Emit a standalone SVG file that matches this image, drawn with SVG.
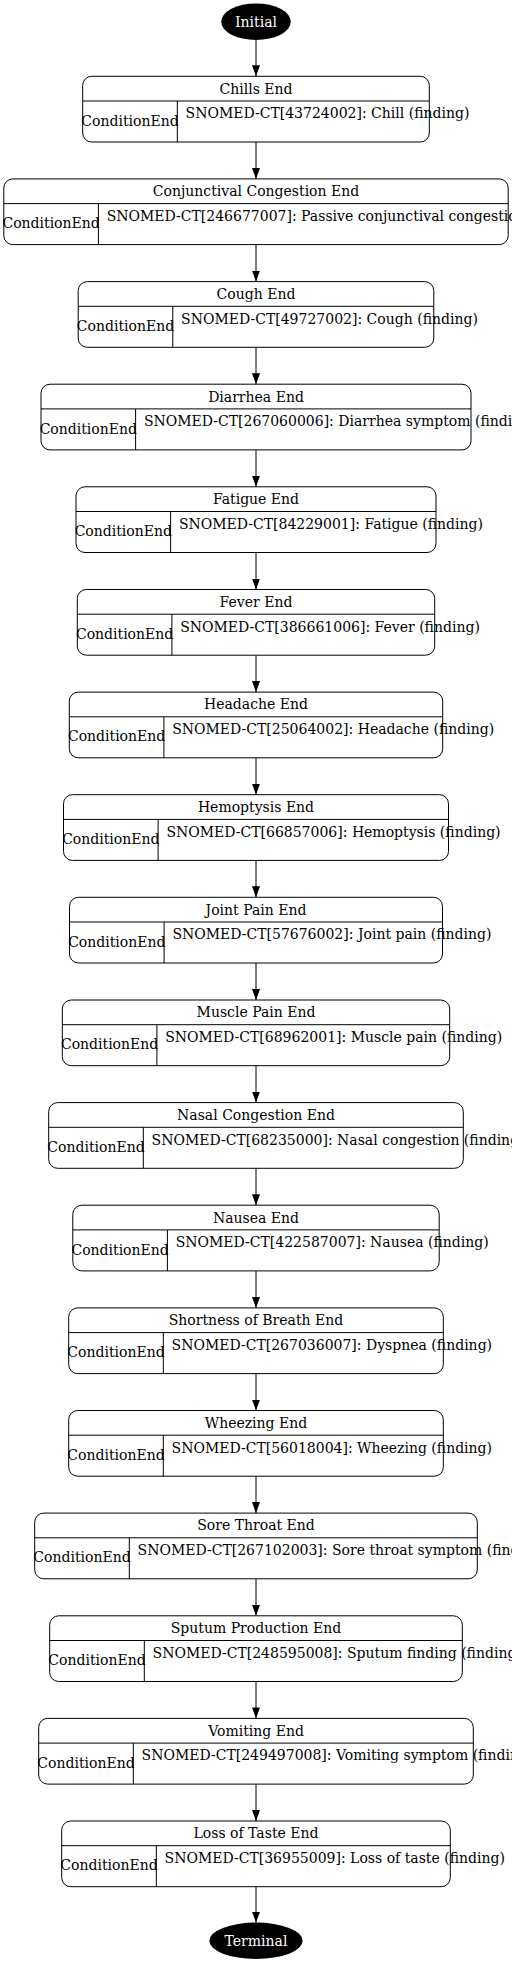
<svg xmlns="http://www.w3.org/2000/svg" width="512" height="1963" viewBox="0 0 512 1963">
<style>
text{font-family:"DejaVu Serif","Liberation Serif",serif;font-size:14px;fill:#000}
.box{fill:#fff;stroke:#000;stroke-width:1}
.ln{stroke:#000;stroke-width:1;fill:none}
.t{text-anchor:middle}
.s{text-anchor:start}
.e{stroke:#000;stroke-width:1;fill:none;marker-end:url(#ah)}
.w{fill:#fff;text-anchor:middle}
</style>
<defs>
<marker id="ah" markerUnits="userSpaceOnUse" markerWidth="11" markerHeight="8" refX="11" refY="4" orient="auto" viewBox="0 0 11 8">
<path d="M0,0 L11,4 L0,8 z" fill="#000"/>
</marker>
</defs>
<rect width="512" height="1963" fill="#fff"/>
<g id="connectors">
<path class="e" d="M256,40 V76.3"/>
<path class="e" d="M256,142 V178.9"/>
<path class="e" d="M256,244.6 V281.6"/>
<path class="e" d="M256,347.3 V384.2"/>
<path class="e" d="M256,449.9 V486.8"/>
<path class="e" d="M256,552.5 V589.5"/>
<path class="e" d="M256,655.2 V692.1"/>
<path class="e" d="M256,757.8 V794.7"/>
<path class="e" d="M256,860.4 V897.3"/>
<path class="e" d="M256,963 V1000"/>
<path class="e" d="M256,1065.7 V1102.6"/>
<path class="e" d="M256,1168.3 V1205.2"/>
<path class="e" d="M256,1270.9 V1307.9"/>
<path class="e" d="M256,1373.6 V1410.5"/>
<path class="e" d="M256,1476.2 V1513.1"/>
<path class="e" d="M256,1578.8 V1615.8"/>
<path class="e" d="M256,1681.5 V1718.4"/>
<path class="e" d="M256,1784.1 V1821"/>
<path class="e" d="M256,1886.7 V1922.6"/>
</g>
<g id="initial">
<ellipse cx="256" cy="21.7" rx="34.8" ry="18.3" fill="#000"/>
<text class="w" x="256" y="26.5">Initial</text>
</g>
<g id="chills">
<rect class="box" x="82.7" y="76.3" width="346.6" height="65.7" rx="9"/>
<path class="ln" d="M82.7,101 H429.3 M177.3,101 V142"/>
<text class="t" x="256" y="93.6">Chills End</text>
<text class="t" x="130" y="125.6">ConditionEnd</text>
<text class="s" x="185.6" y="118.3">SNOMED-CT[43724002]: Chill (finding)</text>
</g>
<g id="conjunctival">
<rect class="box" x="3.8" y="178.9" width="504.4" height="65.7" rx="9"/>
<path class="ln" d="M3.8,203.6 H508.2 M98.4,203.6 V244.6"/>
<text class="t" x="256" y="196.2">Conjunctival Congestion End</text>
<text class="t" x="51.1" y="228.2">ConditionEnd</text>
<text class="s" x="106.7" y="220.9">SNOMED-CT[246677007]: Passive conjunctival congestion (finding)</text>
</g>
<g id="cough">
<rect class="box" x="78.2" y="281.6" width="355.6" height="65.7" rx="9"/>
<path class="ln" d="M78.2,306.3 H433.8 M172.8,306.3 V347.3"/>
<text class="t" x="256" y="298.9">Cough End</text>
<text class="t" x="125.5" y="330.9">ConditionEnd</text>
<text class="s" x="181.1" y="323.6">SNOMED-CT[49727002]: Cough (finding)</text>
</g>
<g id="diarrhea">
<rect class="box" x="41" y="384.2" width="430" height="65.7" rx="9"/>
<path class="ln" d="M41,408.9 H471 M135.6,408.9 V449.9"/>
<text class="t" x="256" y="401.5">Diarrhea End</text>
<text class="t" x="88.3" y="433.5">ConditionEnd</text>
<text class="s" x="143.9" y="426.2">SNOMED-CT[267060006]: Diarrhea symptom (finding)</text>
</g>
<g id="fatigue">
<rect class="box" x="76" y="486.8" width="360" height="65.7" rx="9"/>
<path class="ln" d="M76,511.5 H436 M170.6,511.5 V552.5"/>
<text class="t" x="256" y="504.1">Fatigue End</text>
<text class="t" x="123.3" y="536.1">ConditionEnd</text>
<text class="s" x="178.9" y="528.8">SNOMED-CT[84229001]: Fatigue (finding)</text>
</g>
<g id="fever">
<rect class="box" x="77.3" y="589.5" width="357.4" height="65.7" rx="9"/>
<path class="ln" d="M77.3,614.2 H434.7 M171.9,614.2 V655.2"/>
<text class="t" x="256" y="606.8">Fever End</text>
<text class="t" x="124.6" y="638.8">ConditionEnd</text>
<text class="s" x="180.2" y="631.5">SNOMED-CT[386661006]: Fever (finding)</text>
</g>
<g id="headache">
<rect class="box" x="69.3" y="692.1" width="373.4" height="65.7" rx="9"/>
<path class="ln" d="M69.3,716.8 H442.7 M163.9,716.8 V757.8"/>
<text class="t" x="256" y="709.4">Headache End</text>
<text class="t" x="116.6" y="741.4">ConditionEnd</text>
<text class="s" x="172.2" y="734.1">SNOMED-CT[25064002]: Headache (finding)</text>
</g>
<g id="hemoptysis">
<rect class="box" x="63.5" y="794.7" width="385" height="65.7" rx="9"/>
<path class="ln" d="M63.5,819.4 H448.5 M158.1,819.4 V860.4"/>
<text class="t" x="256" y="812">Hemoptysis End</text>
<text class="t" x="110.8" y="844">ConditionEnd</text>
<text class="s" x="166.4" y="836.7">SNOMED-CT[66857006]: Hemoptysis (finding)</text>
</g>
<g id="jointpain">
<rect class="box" x="69.5" y="897.3" width="373" height="65.7" rx="9"/>
<path class="ln" d="M69.5,922 H442.5 M164.1,922 V963"/>
<text class="t" x="256" y="914.6">Joint Pain End</text>
<text class="t" x="116.8" y="946.6">ConditionEnd</text>
<text class="s" x="172.4" y="939.3">SNOMED-CT[57676002]: Joint pain (finding)</text>
</g>
<g id="musclepain">
<rect class="box" x="62.3" y="1000" width="387.4" height="65.7" rx="9"/>
<path class="ln" d="M62.3,1024.7 H449.7 M156.9,1024.7 V1065.7"/>
<text class="t" x="256" y="1017.3">Muscle Pain End</text>
<text class="t" x="109.6" y="1049.3">ConditionEnd</text>
<text class="s" x="165.2" y="1042">SNOMED-CT[68962001]: Muscle pain (finding)</text>
</g>
<g id="nasal">
<rect class="box" x="48.7" y="1102.6" width="414.6" height="65.7" rx="9"/>
<path class="ln" d="M48.7,1127.3 H463.3 M143.3,1127.3 V1168.3"/>
<text class="t" x="256" y="1119.9">Nasal Congestion End</text>
<text class="t" x="96" y="1151.9">ConditionEnd</text>
<text class="s" x="151.6" y="1144.6">SNOMED-CT[68235000]: Nasal congestion (finding)</text>
</g>
<g id="nausea">
<rect class="box" x="72.8" y="1205.2" width="366.4" height="65.7" rx="9"/>
<path class="ln" d="M72.8,1229.9 H439.2 M167.4,1229.9 V1270.9"/>
<text class="t" x="256" y="1222.5">Nausea End</text>
<text class="t" x="120.1" y="1254.5">ConditionEnd</text>
<text class="s" x="175.7" y="1247.2">SNOMED-CT[422587007]: Nausea (finding)</text>
</g>
<g id="shortness">
<rect class="box" x="68.7" y="1307.9" width="374.6" height="65.7" rx="9"/>
<path class="ln" d="M68.7,1332.6 H443.3 M163.3,1332.6 V1373.6"/>
<text class="t" x="256" y="1325.2">Shortness of Breath End</text>
<text class="t" x="116" y="1357.2">ConditionEnd</text>
<text class="s" x="171.6" y="1349.9">SNOMED-CT[267036007]: Dyspnea (finding)</text>
</g>
<g id="wheezing">
<rect class="box" x="68.7" y="1410.5" width="374.6" height="65.7" rx="9"/>
<path class="ln" d="M68.7,1435.2 H443.3 M163.3,1435.2 V1476.2"/>
<text class="t" x="256" y="1427.8">Wheezing End</text>
<text class="t" x="116" y="1459.8">ConditionEnd</text>
<text class="s" x="171.6" y="1452.5">SNOMED-CT[56018004]: Wheezing (finding)</text>
</g>
<g id="sorethroat">
<rect class="box" x="34.7" y="1513.1" width="442.6" height="65.7" rx="9"/>
<path class="ln" d="M34.7,1537.8 H477.3 M129.3,1537.8 V1578.8"/>
<text class="t" x="256" y="1530.4">Sore Throat End</text>
<text class="t" x="82" y="1562.4">ConditionEnd</text>
<text class="s" x="137.6" y="1555.1">SNOMED-CT[267102003]: Sore throat symptom (finding)</text>
</g>
<g id="sputum">
<rect class="box" x="49.7" y="1615.8" width="412.6" height="65.7" rx="9"/>
<path class="ln" d="M49.7,1640.5 H462.3 M144.3,1640.5 V1681.5"/>
<text class="t" x="256" y="1633.1">Sputum Production End</text>
<text class="t" x="97" y="1665.1">ConditionEnd</text>
<text class="s" x="152.6" y="1657.8">SNOMED-CT[248595008]: Sputum finding (finding)</text>
</g>
<g id="vomiting">
<rect class="box" x="38.7" y="1718.4" width="434.6" height="65.7" rx="9"/>
<path class="ln" d="M38.7,1743.1 H473.3 M133.3,1743.1 V1784.1"/>
<text class="t" x="256" y="1735.7">Vomiting End</text>
<text class="t" x="86" y="1767.7">ConditionEnd</text>
<text class="s" x="141.6" y="1760.4">SNOMED-CT[249497008]: Vomiting symptom (finding)</text>
</g>
<g id="lossoftaste">
<rect class="box" x="61.7" y="1821" width="388.6" height="65.7" rx="9"/>
<path class="ln" d="M61.7,1845.7 H450.3 M156.3,1845.7 V1886.7"/>
<text class="t" x="256" y="1838.3">Loss of Taste End</text>
<text class="t" x="109" y="1870.3">ConditionEnd</text>
<text class="s" x="164.6" y="1863">SNOMED-CT[36955009]: Loss of taste (finding)</text>
</g>
<g id="terminal">
<ellipse cx="256" cy="1940.8" rx="46.7" ry="18.2" fill="#000"/>
<text class="w" x="256" y="1945.5">Terminal</text>
</g>
</svg>
